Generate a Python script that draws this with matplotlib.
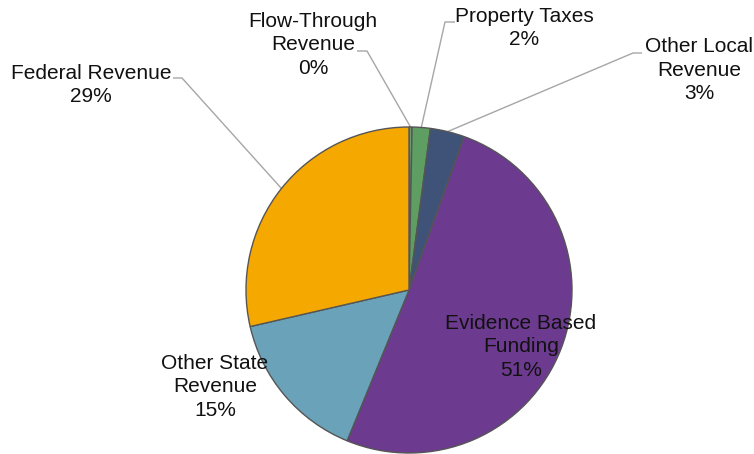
import numpy as np
import matplotlib
matplotlib.use("Agg")
import matplotlib.pyplot as plt

plt.rcParams['font.family'] = ['Liberation Sans', 'DejaVu Sans']

# Revenue sources (share of total, percent)
categories = ["Flow-Through\nRevenue", "Property Taxes", "Other Local\nRevenue",
              "Evidence Based\nFunding", "Other State\nRevenue", "Federal Revenue"]
shares = [0.3, 1.8, 3.4, 50.7, 15.2, 28.6]
colors = ["#6E9A6C", "#5E9E62", "#3F5378", "#6C3A8E", "#6AA2BA", "#F5A800"]

W, H = 754, 454
fig = plt.figure(figsize=(W / 100, H / 100), dpi=100)
ax = fig.add_axes([0, 0, 1, 1])

cx, cy, r = 409, H - 290, 163
wedges, _ = ax.pie(shares, colors=colors, startangle=90, counterclock=False,
                   center=(cx, cy), radius=r,
                   wedgeprops=dict(edgecolor="#555555", linewidth=1.0))
ax.set_xlim(0, W)
ax.set_ylim(0, H)
ax.set_aspect("equal")
ax.axis("off")

def edge_point(w):
    mid = np.deg2rad((w.theta1 + w.theta2) / 2)
    return cx + r * np.cos(mid), cy + r * np.sin(mid)

def label(i, x, y):
    total = sum(shares)
    txt = f"{categories[i]}\n{shares[i] / total * 100:.0f}%"
    ax.text(x, H - y, txt, ha="center", va="center", fontsize=15,
            color="#111111", linespacing=1.32)

# label text centres (pixels from top-left)
label(0, 313, 45)
label(1, 524, 28)
label(2, 699, 70)
label(3, 521, 347)
label(4, 215, 387)
label(5, 91, 85)

# leader lines: short horizontal tick next to text, then to wedge edge
leaders = {0: (357, 367, 51), 1: (455, 445, 22), 2: (642, 633, 53), 5: (173, 182, 78)}
for i, (x0, x1, y) in leaders.items():
    ex, ey = edge_point(wedges[i])
    ax.plot([x0, x1, ex], [H - y, H - y, ey], color="#A6A6A6", lw=1.0,
            solid_capstyle="butt", zorder=0.5)

fig.savefig("out.png", dpi=100)
